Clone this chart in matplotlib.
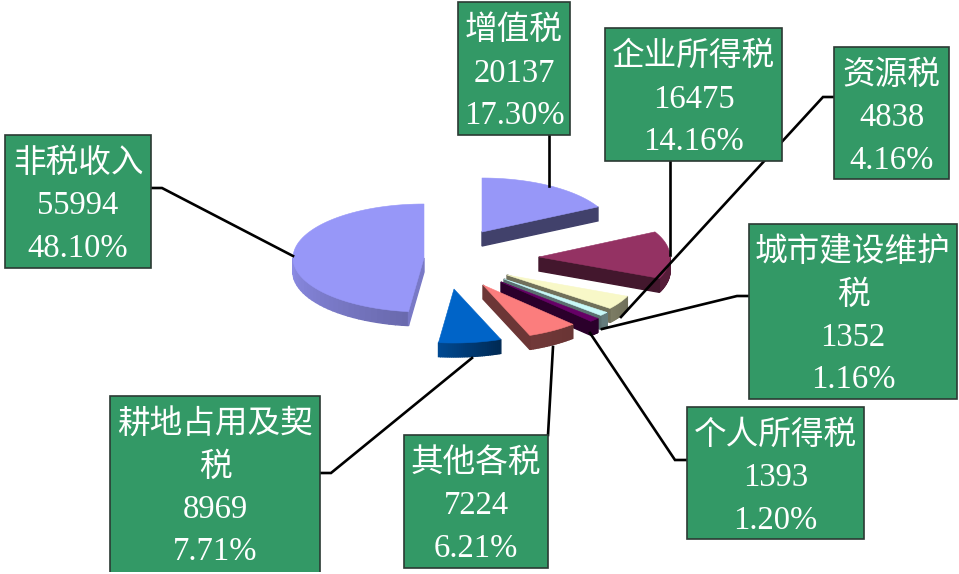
import numpy as np
import matplotlib
matplotlib.use('Agg')
import matplotlib.pyplot as plt
from matplotlib.colors import to_rgb
from matplotlib.patches import Polygon, Rectangle

# values, clockwise from 12 o'clock
names = ['增值税', '企业所得税', '资源税', '城市建设维护税', '个人所得税', '其他各税', '耕地占用及契税', '非税收入']
values = [20137, 16475, 4838, 1352, 1393, 7224, 8969, 55994]
percents = ['17.30%', '14.16%', '4.16%', '1.16%', '1.20%', '6.21%', '7.71%', '48.10%']

# wrapped label lines
label_lines = [['增值税'], ['企业所得税'], ['资源税'], ['城市建设维护', '税'], ['个人所得税'],
               ['其他各税'], ['耕地占用及契', '税'], ['非税收入']]

# style and layout, all in image pixels
colors = ['#9797F8', '#943263', '#F8F8C8', '#C8F8F8', '#660066', '#FB7D7D', '#0064C8', '#9797F8']
edge_shade = [0.43, 0.45, 0.45, 0.45, 0.42, 0.43, 0.43, 0.80]
arc_shade = [(0.6, 0.6), (0.58, 0.58), (0.5, 0.45), (0.5, 0.5), (0.42, 0.42), (0.45, 0.42), (0.72, 0.42), (0.92, 0.70)]
apex = [(482, 232), (539, 257), (507, 275), (504, 279), (501, 282), (483, 285), (454, 289), (424, 258)]
boxes = [(458, 2, 570, 135), (605, 28, 782, 161), (834, 47, 949, 179), (749, 224, 957, 399),
         (687, 407, 864, 539), (404, 435, 548, 568), (110, 396, 320, 580), (5, 135, 151, 268)]
leaders = [[(549, 135), (549, 186)],
           [(670, 161), (670, 255)],
           [(834, 97), (823, 97), (621, 317)],
           [(749, 296), (737, 296), (602, 329)],
           [(687, 460), (675, 460), (590, 333)],
           [(548, 435), (553, 347)],
           [(320, 473), (331, 473), (472, 358)],
           [(151, 188), (162, 188), (293, 256)]]
rx, ry, depth = 131, 54, 14

plt.rcParams['font.family'] = ['Liberation Serif', 'Noto Sans CJK SC', 'DejaVu Sans']

fig = plt.figure(figsize=(9.59, 5.74), dpi=100)
ax = fig.add_axes([0, 0, 1, 1])
ax.set_xlim(0, 959)
ax.set_ylim(574, 0)
ax.axis('off')


def rim(center, deg):
    t = np.radians(deg)
    return center[0] + rx * np.sin(t), center[1] - ry * np.cos(t)


def shade(color, k):
    return tuple(c * k for c in to_rgb(color))


def side(p, q, color):
    # lw 1 so neighbouring strips overlap and leave no seams
    ax.add_patch(Polygon([p, q, (q[0], q[1] + depth), (p[0], p[1] + depth)], closed=True,
                         facecolor=color, edgecolor=color, linewidth=1.0, zorder=2))


edges = np.concatenate([[0], np.cumsum(values)]) / sum(values) * 360
for i in range(len(values)):
    a, b = edges[i], edges[i + 1]
    c = apex[i]
    # rounded outer wall, front half only
    lo, hi = max(a, 90), min(b, 270)
    if hi > lo:
        steps = np.linspace(lo, hi, 30)
        for j in range(len(steps) - 1):
            k = np.interp(j, [0, len(steps) - 2], [arc_shade[i][1], arc_shade[i][0]])
            side(rim(c, steps[j]), rim(c, steps[j + 1]), shade(colors[i], k))
    # straight cut faces that look towards the viewer
    if np.sin(np.radians(b)) > 0:
        side(c, rim(c, b), shade(colors[i], edge_shade[i]))
    if np.sin(np.radians(a)) < 0:
        side(c, rim(c, a), shade(colors[i], edge_shade[i]))
    # top face
    top = [c] + [rim(c, d) for d in np.linspace(a, b, 80)]
    ax.add_patch(Polygon(top, closed=True, facecolor=colors[i], edgecolor=colors[i],
                         linewidth=0.4, zorder=3))

for pts in leaders:
    xs, ys = zip(*pts)
    ax.plot(xs, ys, color='black', lw=1.9, solid_joinstyle='miter', zorder=4)

for i in range(len(values)):
    x0, y0, x1, y1 = boxes[i]
    ax.add_patch(Rectangle((x0, y0), x1 - x0, y1 - y0, facecolor='#339966', edgecolor='#2B3A33',
                           linewidth=1.2, zorder=5))
    rows = label_lines[i] + [str(values[i]), percents[i]]
    for n, row in enumerate(rows):
        ax.text((x0 + x1) / 2, y0 + 37 + 42.5 * n, row, color='white', fontsize=23.5,
                ha='center', va='baseline', zorder=6)

# the source picture is cut off just above its bottom edge
ax.add_patch(Rectangle((0, 572), 959, 2, facecolor='white', edgecolor='none', zorder=7))

fig.savefig('out.png', dpi=100, facecolor='white')
